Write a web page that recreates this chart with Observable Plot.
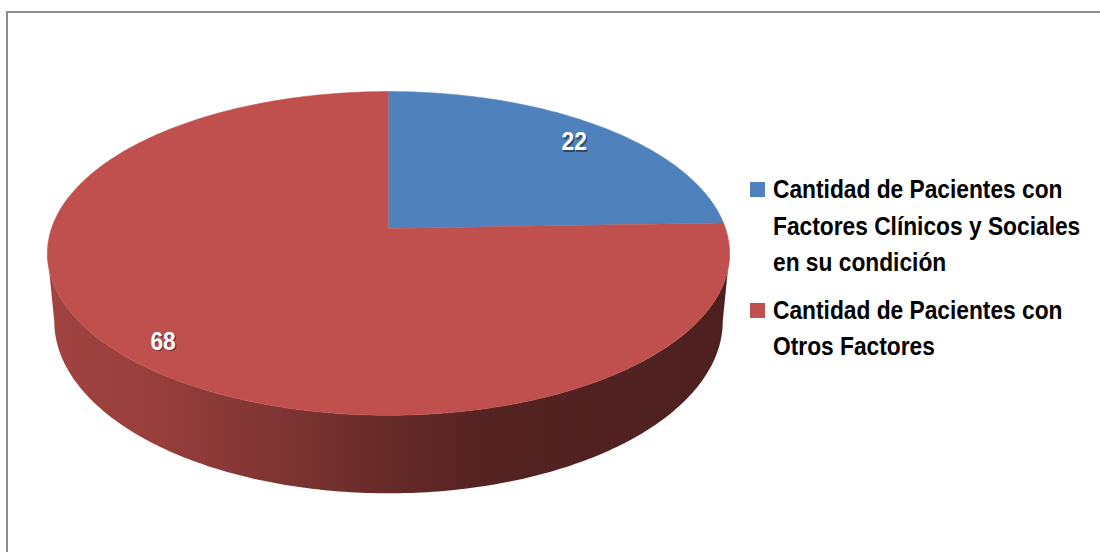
<!DOCTYPE html>
<html><head><meta charset="utf-8">
<script src="https://cdn.jsdelivr.net/npm/d3@7"></script>
<script src="https://cdn.jsdelivr.net/npm/@observablehq/plot@0.6"></script>
<style>
html,body{margin:0;padding:0;background:#fff;overflow:hidden;width:1100px;height:552px;}
#frame{position:absolute;left:6px;top:11px;width:1200px;height:700px;border:2px solid #8e8e8e;box-sizing:border-box;}
#chart{position:absolute;left:0;top:0;}
#legend{position:absolute;left:750px;top:171px;font-family:"Liberation Sans",Arial,sans-serif;font-weight:bold;font-size:25px;line-height:36.5px;color:#000;}
.item{position:relative;height:auto;margin-bottom:11px;}
.sw{position:absolute;left:0;top:11px;width:15px;height:15px;}
.txt{margin-left:23px;width:362px;transform:scaleX(0.91);transform-origin:0 0;}
</style></head><body>
<div id="frame"></div><div id="chart"></div><div id="legend"></div>
<script>
const categories = [
  "Cantidad de Pacientes con Factores Clínicos y Sociales en su condición",
  "Cantidad de Pacientes con Otros Factores"
];
const values = [22, 68];
const colors = ["#4f81bd", "#c0504d"];

// 3D pie geometry (perspective tilt)
const k = -0.154;      // perspective factor
const depth = 0.418;   // extrusion (in y units)
const shrink = 0.98;   // bottom face narrowing
const labelR = 0.87;
const proj = (t, r = 1) => { const u = r * Math.sin(t), v = -r * Math.cos(t), w = 1 + k * v; return {X: u / w, Y: v / w}; };
const projB = (t) => { const u = Math.sin(t), v = -Math.cos(t), w = 1 + k * v; return {X: shrink * u / w, Y: (v + depth) / w}; };

const arcs = d3.pie().sort(null).startAngle(0).endAngle(2 * Math.PI)(values);
const steps = 180;
const front0 = Math.acos(k), front1 = 2 * Math.PI - Math.acos(k); // front-facing range

const tops = arcs.map((a, i) => {
  const pts = [{X: 0, Y: 0}];
  const n = Math.max(2, Math.ceil((a.endAngle - a.startAngle) / (2 * Math.PI) * steps * 2));
  for (let j = 0; j <= n; j++) pts.push(proj(a.startAngle + (a.endAngle - a.startAngle) * j / n));
  return pts;
});
const sides = arcs.map((a, i) => {
  const s = Math.max(a.startAngle, front0), e = Math.min(a.endAngle, front1);
  if (e <= s) return [];
  const n = 200, top = [], bot = [];
  for (let j = 0; j <= n; j++) { const t = s + (e - s) * j / n; top.push(proj(t)); bot.push(projB(t)); }
  return top.concat(bot.reverse());
});
const labels = arcs.map((a, i) => ({...proj((a.startAngle + a.endAngle) / 2, labelR), text: String(values[i])}));

const font = '"Liberation Sans",Arial,sans-serif';
const plot = Plot.plot({
  width: 1100, height: 552, margin: 0,
  style: {background: "transparent"},
  x: {domain: [-388 / 337, 712 / 337], range: [0, 1100], axis: null},
  y: {domain: [-228 / 158, 324 / 158], range: [0, 552], axis: null},
  marks: [
    ...sides.map((pts, i) => Plot.line(pts, {x: "X", y: "Y", fill: `url(#sideGrad${i})`, stroke: "none"})),
    ...tops.map((pts, i) => Plot.line(pts, {x: "X", y: "Y", fill: colors[i], stroke: colors[i], strokeWidth: 0.6})),
    Plot.text(labels, {x: "X", y: "Y", text: "text", fill: "#000", fillOpacity: 0.45, dx: 1.2, dy: 5.4, fontSize: 25, fontWeight: "bold", fontFamily: font}),
    Plot.text(labels, {x: "X", y: "Y", text: "text", fill: "#fff", dy: 4, fontSize: 25, fontWeight: "bold", fontFamily: font})
  ]
});
// narrow the label glyphs (condensed look)
d3.select(plot).selectAll("text").each(function() {
  const t = this.getAttribute("transform");
  if (t) this.setAttribute("transform", t + " scale(0.91,1)");
});
const defs = d3.select(plot).insert("defs", ":first-child");
arcs.forEach((a, i) => {
  const g = defs.append("linearGradient").attr("id", `sideGrad${i}`).attr("x1", 0).attr("x2", 1).attr("y1", 0).attr("y2", 0);
  const c = d3.color(colors[i]);
  [[0, 0.84], [0.15, 0.79], [0.35, 0.65], [0.5, 0.53], [0.65, 0.44], [1, 0.40]].forEach(([o, f]) => {
    g.append("stop").attr("offset", o).attr("stop-color", d3.rgb(c.r * f, c.g * f, c.b * f).formatHex());
  });
});
document.getElementById("chart").appendChild(plot);

const legend = d3.select("#legend");
categories.forEach((c, i) => {
  const it = legend.append("div").attr("class", "item");
  it.append("div").attr("class", "sw").style("background", colors[i]);
  it.append("div").attr("class", "txt").text(c);
});
</script></body></html>
